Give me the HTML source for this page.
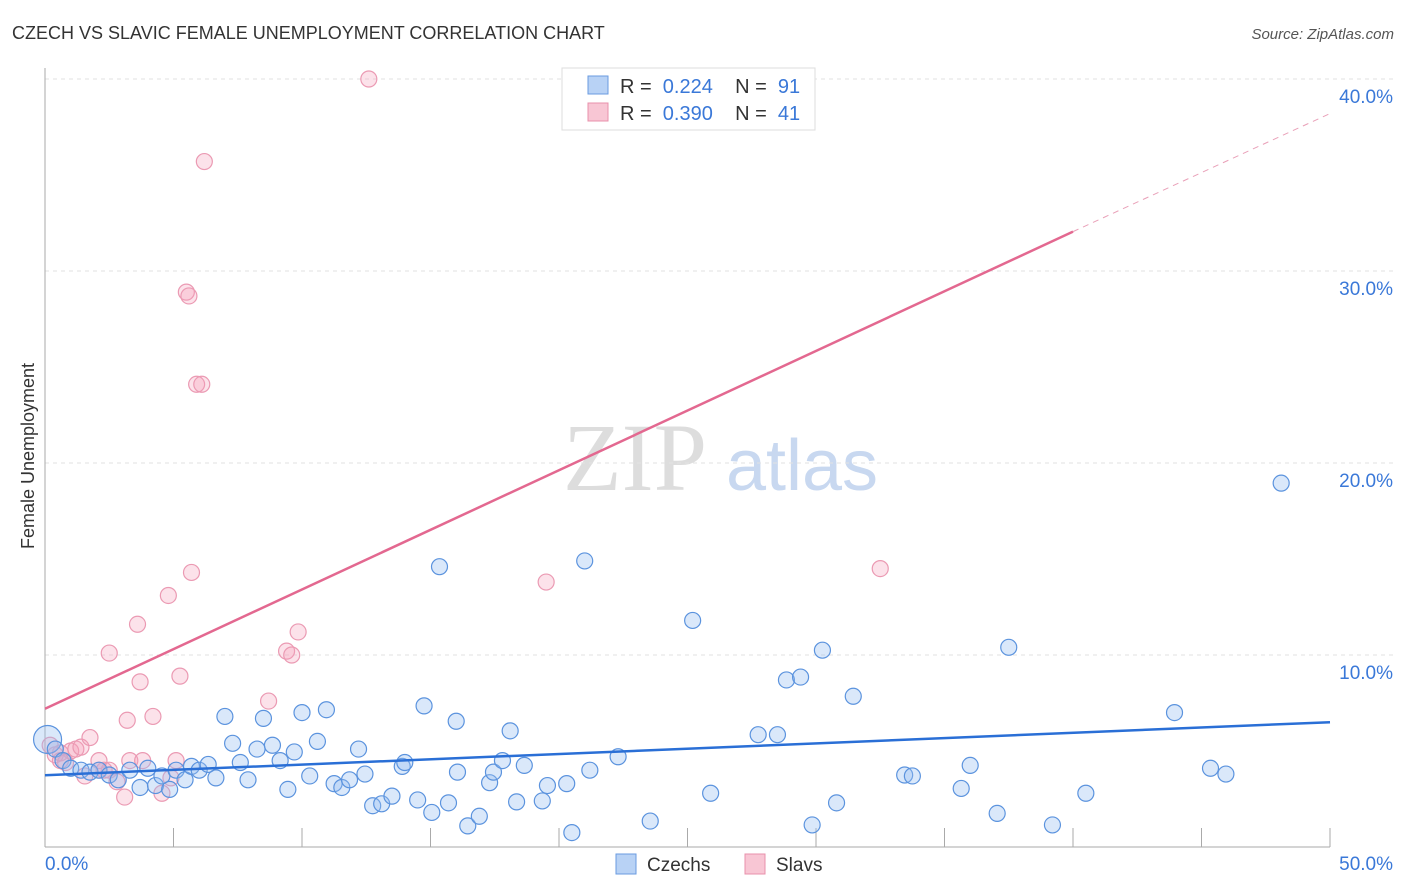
<!DOCTYPE html>
<html><head><meta charset="utf-8"><style>
body{margin:0;background:#fff;font-family:"Liberation Sans",sans-serif;}
svg{display:block}
</style></head><body>
<svg id="chart" width="1406" height="892">
<text x="12" y="39" font-size="18" fill="#333">CZECH VS SLAVIC FEMALE UNEMPLOYMENT CORRELATION CHART</text>
<text x="1394" y="39" font-size="15" fill="#555" font-style="italic" text-anchor="end">Source: ZipAtlas.com</text>
<text x="34" y="456" font-size="18" fill="#333" text-anchor="middle" transform="rotate(-90 34 456)">Female Unemployment</text>
<g><text x="635" y="490" font-size="96" fill="#ddd" font-family="Liberation Serif,serif" text-anchor="middle">ZIP</text><text x="802" y="490" font-size="72" fill="#c8d8f0" text-anchor="middle">atlas</text></g>
<g id="grid"></g><g id="marks"></g>
<g>
<rect x="562" y="68" width="253" height="62" fill="#fff" stroke="#ddd"/>
<rect x="588" y="76" width="20" height="18" fill="#b8d2f5" stroke="#6a9be0"/>
<rect x="588" y="103" width="20" height="18" fill="#f8c6d4" stroke="#e890ab"/>
<text x="620" y="93" font-size="20" fill="#333" xml:space="preserve">R =  <tspan fill="#3a78d8">0.224</tspan>    N =  <tspan fill="#3a78d8">91</tspan></text>
<text x="620" y="120" font-size="20" fill="#333" xml:space="preserve">R =  <tspan fill="#3a78d8">0.390</tspan>    N =  <tspan fill="#3a78d8">41</tspan></text>
</g>
<g>
<rect x="616" y="854" width="20" height="20" fill="#b8d2f5" stroke="#6a9be0"/>
<text x="647" y="871" font-size="19" fill="#333">Czechs</text>
<rect x="745" y="854" width="20" height="20" fill="#f8c6d4" stroke="#e890ab"/>
<text x="776" y="871" font-size="19" fill="#333">Slavs</text>
</g>
</svg>
<script>
const xTicks=[0,50];
const yTicks=[10,20,30,40];
const czechX=[0.1,0.4,0.7,1.0,1.4,1.75,2.1,2.5,2.85,3.3,
3.7,4.0,4.3,4.55,4.85,5.1,5.45,5.7,6.0,6.35,
6.65,7.0,7.3,7.6,7.9,8.25,8.5,8.85,9.15,9.45,
9.7,10.0,10.3,10.6,10.95,11.25,11.55,11.85,12.2,12.45,
12.75,13.1,13.5,13.9,14.0,14.5,14.75,15.05,15.35,15.7,
16.0,16.05,16.45,16.9,17.3,17.45,17.8,18.1,18.35,18.65,
19.35,19.55,20.3,20.5,21.0,21.2,22.3,23.55,25.2,25.9,
27.75,28.5,28.85,29.4,29.85,30.25,30.8,31.45,33.45,33.75,
35.65,36.0,37.05,37.5,39.2,40.5,43.95,45.35,45.95,48.1];
const czechY=[5.6,5.1,4.5,4.1,4.0,3.9,4.0,3.75,3.5,4.0,
3.1,4.1,3.2,3.7,3.0,4.0,3.5,4.2,4.0,4.3,
3.6,6.8,5.4,4.4,3.5,5.1,6.7,5.3,4.5,3.0,
4.95,7.0,3.7,5.5,7.15,3.3,3.1,3.5,5.1,3.8,
2.15,2.25,2.65,4.2,4.4,2.45,7.35,1.8,14.6,2.3,
6.55,3.9,1.1,1.6,3.35,3.9,4.5,6.05,2.35,4.25,
2.4,3.2,3.3,0.75,14.9,4.0,4.7,1.35,11.8,2.8,
5.85,5.85,8.7,8.85,1.15,10.25,2.3,7.85,3.75,3.7,
3.05,4.25,1.75,10.4,1.15,2.8,7.0,4.1,3.8,18.95];
const slavX=[0.4,0.6,0.8,1,1.2,1.4,1.75,2.1,2.3,2.5,2.8,3.1,3.3,3.7,3.8,3.6,4.2,4.55,4.8,5.1,5.25,5.7,5.5,5.6,5.9,6.1,6.2,3.2,2.5,2.1,8.7,9.4,9.6,9.85,12.6,19.5,32.5,0.2,0.6,1.55,4.9];
const slavY=[4.8,4.9,4.4,5,5.1,5.2,5.7,4.5,4,4,3.4,2.6,4.5,8.6,4.5,11.6,6.8,2.8,13.1,4.5,8.9,14.3,28.9,28.7,24.1,24.1,35.7,6.6,10.1,4,7.6,10.2,10,11.2,40,13.8,14.5,5.3,4.5,3.7,3.6];
const X=v=>45+v*25.7, Y=v=>847-v*19.2;
const NS='http://www.w3.org/2000/svg';
const grid=document.getElementById('grid'), marks=document.getElementById('marks');
function mk(tag,attrs,parent){const e=document.createElementNS(NS,tag);for(const k in attrs)e.setAttribute(k,attrs[k]);parent.appendChild(e);return e;}
for(const t of yTicks){
 const l=mk('line',{x1:45,x2:1393,y1:Y(t),y2:Y(t),stroke:'#e2e2e2','stroke-dasharray':'4,4'},grid);
 
 
 const tx=mk('text',{x:1393,y:Y(t)+24,'font-size':19,fill:'#3a78d8','text-anchor':'end'},grid);tx.textContent=t.toFixed(1)+'%';
 
 
}
mk('line',{x1:45,x2:45,y1:68,y2:847,stroke:'#aaa'},grid);
mk('line',{x1:45,x2:1330,y1:847,y2:847,stroke:'#aaa'},grid);
for(let i=0;i<=10;i++){mk('line',{x1:X(i*5),x2:X(i*5),y1:828,y2:847,stroke:'#aaa'},grid);}
xTicks.forEach((t,i)=>{const tx=mk('text',{x:i?1393:45,y:870,'font-size':19,fill:'#3a78d8','text-anchor':i?'end':'start'},grid);tx.textContent=t.toFixed(1)+'%';
 
 });
slavX.forEach((v,i)=>{const c=mk('circle',{cx:X(v),cy:Y(slavY[i]),r:8,fill:'rgba(245,160,185,0.3)',stroke:'#eb9ab3','stroke-width':1.2},marks);
 
 });
czechX.forEach((v,i)=>{const c=mk('circle',{cx:X(v),cy:Y(czechY[i]),r:i==0?14:8,fill:'rgba(150,190,240,0.35)',stroke:'#5b93de','stroke-width':1.2},marks);
 
 });
let l1=mk('line',{x1:X(0),y1:Y(3.74),x2:X(50),y2:Y(6.5),stroke:'#2a6fd6','stroke-width':2.5},marks);


let l2=mk('line',{x1:X(0),y1:Y(7.2),x2:X(40),y2:Y(32.05),stroke:'#e36890','stroke-width':2.5},marks);


let l3=mk('line',{x1:X(40),y1:Y(32.05),x2:X(50),y2:Y(38.2),stroke:'#e9a0b8','stroke-width':1,'stroke-dasharray':'6,5'},marks);


</script>
</body></html>
